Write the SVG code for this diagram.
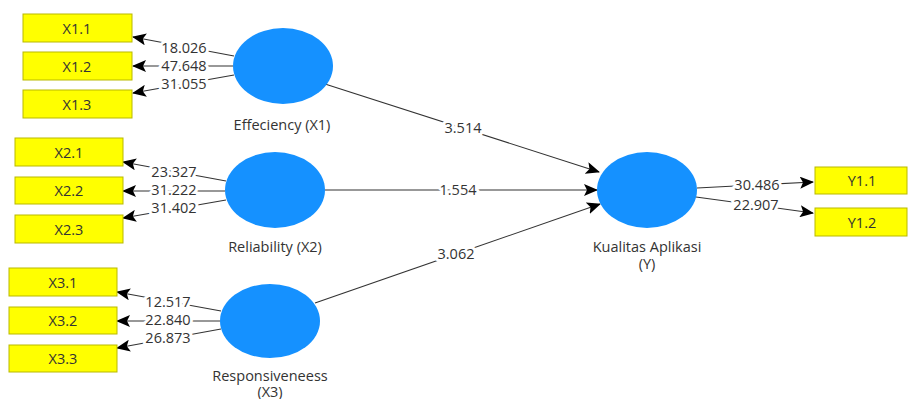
<svg xmlns="http://www.w3.org/2000/svg" width="909" height="399" viewBox="0 0 909 399">
<style>
.ind{fill:#ffff00;stroke:#b9b900;stroke-width:1}
.lv{fill:#1591ff}
.t{font-family:"Open Sans","Liberation Sans",sans-serif;font-size:14.5px;fill:#333;text-anchor:middle;dominant-baseline:central}
.w{paint-order:stroke;stroke:#fff;stroke-width:6px;stroke-linejoin:round}
.c{stroke:#333;stroke-width:1.1;fill:none;marker-end:url(#ah)}
</style>
<defs>
<marker id="ah" markerUnits="userSpaceOnUse" markerWidth="14" markerHeight="12" viewBox="0 0 14 12" refX="13" refY="6" orient="auto">
<path d="M0,0 L14,6 L0,12 L3,6 Z" fill="#000"/>
</marker>
</defs>
<rect width="909" height="399" fill="#fff"/>
<g id="connectors">
<line class="c" x1="234" y1="56" x2="133" y2="37"/>
<line class="c" x1="233" y1="66" x2="133" y2="66"/>
<line class="c" x1="234" y1="75" x2="133" y2="93"/>
<line class="c" x1="226" y1="181" x2="123" y2="162"/>
<line class="c" x1="225" y1="191" x2="123" y2="191"/>
<line class="c" x1="226" y1="200" x2="123" y2="218"/>
<line class="c" x1="221" y1="311" x2="117" y2="292"/>
<line class="c" x1="220" y1="321" x2="117" y2="321"/>
<line class="c" x1="221" y1="329" x2="117" y2="348"/>
<line class="c" x1="697" y1="188" x2="813" y2="182"/>
<line class="c" x1="696" y1="197" x2="813" y2="213"/>
<line class="c" x1="325" y1="84" x2="599" y2="172"/>
<line class="c" x1="325" y1="190" x2="597" y2="190"/>
<line class="c" x1="315" y1="303" x2="600" y2="204"/>
<text class="t w" x="184" y="47">18.026</text>
<text class="t w" x="184" y="65">47.648</text>
<text class="t w" x="184" y="83">31.055</text>
<text class="t w" x="174" y="171">23.327</text>
<text class="t w" x="174" y="189">31.222</text>
<text class="t w" x="174" y="207">31.402</text>
<text class="t w" x="168" y="301">12.517</text>
<text class="t w" x="168" y="319">22.840</text>
<text class="t w" x="168" y="337">26.873</text>
<text class="t w" x="757" y="184">30.486</text>
<text class="t w" x="756" y="204">22.907</text>
<text class="t w" x="463" y="127">3.514</text>
<text class="t w" x="458" y="189">1.554</text>
<text class="t w" x="456" y="253">3.062</text>
</g>
<g id="X1.1"><rect class="ind" x="23" y="14" width="109" height="28"/><text class="t" x="77" y="28">X1.1</text></g>
<g id="X1.2"><rect class="ind" x="23" y="52" width="109" height="28"/><text class="t" x="77" y="66">X1.2</text></g>
<g id="X1.3"><rect class="ind" x="23" y="90" width="109" height="28"/><text class="t" x="77" y="104">X1.3</text></g>
<g id="X2.1"><rect class="ind" x="15" y="138" width="108" height="28"/><text class="t" x="69" y="152">X2.1</text></g>
<g id="X2.2"><rect class="ind" x="15" y="177" width="108" height="27"/><text class="t" x="69" y="190">X2.2</text></g>
<g id="X2.3"><rect class="ind" x="15" y="215" width="108" height="28"/><text class="t" x="69" y="229">X2.3</text></g>
<g id="X3.1"><rect class="ind" x="9" y="268" width="108" height="28"/><text class="t" x="63" y="282">X3.1</text></g>
<g id="X3.2"><rect class="ind" x="9" y="307" width="108" height="27"/><text class="t" x="63" y="320">X3.2</text></g>
<g id="X3.3"><rect class="ind" x="9" y="345" width="108" height="27"/><text class="t" x="63" y="358">X3.3</text></g>
<g id="Y1.1"><rect class="ind" x="815" y="167" width="92" height="27"/><text class="t" x="862" y="180">Y1.1</text></g>
<g id="Y1.2"><rect class="ind" x="815" y="208" width="92" height="28"/><text class="t" x="862" y="222">Y1.2</text></g>
<g id="X1"><ellipse class="lv" cx="283" cy="66" rx="50" ry="38"/><text class="t" x="282" y="124">Effeciency (X1)</text></g>
<g id="X2"><ellipse class="lv" cx="275" cy="190" rx="50" ry="38"/><text class="t" x="275" y="246">Reliability (X2)</text></g>
<g id="X3"><ellipse class="lv" cx="270" cy="321" rx="50" ry="37"/><text class="t" x="270" y="375">Responsiveneess<tspan x="270" dy="16">(X3)</tspan></text></g>
<g id="Y"><ellipse class="lv" cx="647" cy="190" rx="50" ry="38"/><text class="t" x="647" y="246">Kualitas Aplikasi<tspan x="647" dy="17">(Y)</tspan></text></g>
</svg>
